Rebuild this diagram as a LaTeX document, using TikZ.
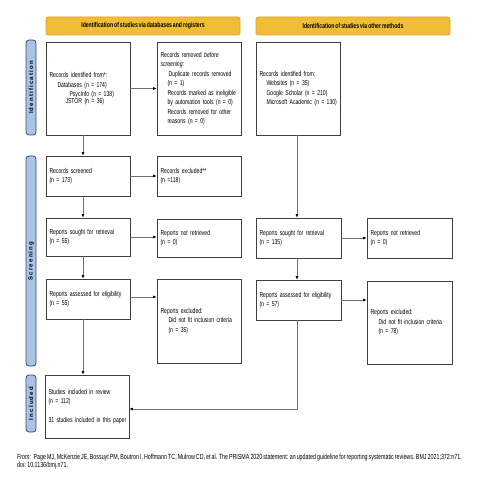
\documentclass[tikz,border=0pt]{standalone}
\usepackage{fontspec}
\setmainfont[FakeStretch=0.72, WordSpace=0.7]{Liberation Sans}
\newfontfamily\sidefont[LetterSpace=20]{Liberation Sans}
\usetikzlibrary{arrows.meta}
\hyphenpenalty=10000
\exhyphenpenalty=10000
\definecolor{bannerfill}{HTML}{F2BD36}
\definecolor{bannerdraw}{HTML}{D6A12A}
\definecolor{sidefill}{HTML}{A9C3E6}
\definecolor{sidedraw}{HTML}{3A4A66}
\definecolor{boxdraw}{HTML}{404040}
\definecolor{linec}{HTML}{707070}
\tikzset{
  box/.style={draw=boxdraw, line width=0.7pt, fill=white, inner xsep=3.5pt, inner ysep=2pt,
    align=left, font=\fontsize{7.1}{9.5}\selectfont},
  banner/.style={draw=bannerdraw, line width=0.6pt, fill=bannerfill, rounded corners=2pt,
    minimum width=194pt, minimum height=18pt, inner sep=0pt, font=\bfseries\fontsize{7.1}{7}\selectfont},
  sidebar/.style={draw=sidedraw, line width=0.8pt, fill=sidefill, rounded corners=3pt, rotate=90,
    minimum height=10pt, inner sep=0pt, font=\sidefont\bfseries\fontsize{6}{7}\selectfont},
  conn/.style={draw=linec, line width=0.6pt, -{Latex[length=3.5pt,width=3pt,color=black]}},
  footer/.style={anchor=north west, inner sep=0pt, align=left, font=\fontsize{7.4}{8}\selectfont}
}
\begin{document}
\begin{tikzpicture}[x=1pt,y=-1pt]
\useasboundingbox[fill=white] (0,0) rectangle (478,486);

% banners
\node[banner] (bandb) at (143,26) {Identification of studies via databases and registers};
\node[banner] (banot) at (353,26) {Identification of studies via other methods};

% side bars
\node[sidebar, minimum width=95pt] (sideid) at (31,87.5) {Identification};
\node[sidebar, minimum width=210pt] (sidescr) at (31,261) {Screening};
\node[sidebar, minimum width=57pt] (sideinc) at (31,403.5) {Included};

% left column
\node[box, text width=77pt, minimum height=93pt] (id1) at (88,88.5) {Records identified from*:\\
\hspace*{8pt}Databases (n = 174)\\
\hspace*{20pt}PsycInfo (n = 138)\\[-3pt]
\hspace*{16pt}JSTOR (n = 36)};
\node[box, text width=77pt, minimum height=93pt] (id2) at (199,88.5) {Records removed \textit{before}\\
\textit{screening}:\\
\hspace*{8pt}Duplicate records removed\\
\hspace*{7pt}(n = 1)\\
\hspace*{7pt}Records marked as ineligible\\
\hspace*{7pt}by automation tools (n = 0)\\
\hspace*{7pt}Records removed for other\\
\hspace*{7pt}reasons (n = 0)};
\node[box, text width=77pt, minimum height=40pt] (scr) at (88,176) {Records screened\\(n = 173)};
\node[box, text width=77pt, minimum height=40pt] (exc) at (199,176) {Records excluded**\\(n =118)};
\node[box, text width=77pt, minimum height=38pt] (soughtL) at (88,237) {Reports sought for retrieval\\(n = 55)};
\node[box, text width=77pt, minimum height=38pt] (notretL) at (199,238) {Reports not retrieved\\(n = 0)};
\node[box, text width=77pt, minimum height=40pt] (assessL) at (88,299) {Reports assessed for eligibility\\(n = 55)};
\node[box, text width=77pt, minimum height=84pt] (exclL) at (199,321) {Reports excluded:\\
\hspace*{8pt}Did not fit inclusion criteria\\
\hspace*{8pt}(n = 35)\\[8pt]};
\node[box, text width=77pt, minimum height=63pt] (incl) at (87,406.5) {Studies included in review\\(n = 112)\\[9.5pt]\mbox{31 studies included in this paper}};

% right column
\node[box, text width=77pt, minimum height=93pt] (id3) at (298,88.5) {Records identified from:\\
\hspace*{7pt}Websites (n = 35)\\
\hspace*{7pt}Google Scholar (n = 210)\\
\hspace*{7pt}\mbox{Microsoft Academic (n = 130)}\\[4pt]};
\node[box, text width=78pt, minimum height=40pt] (soughtR) at (298.5,238) {Reports sought for retrieval\\(n = 135)};
\node[box, text width=78pt, minimum height=40pt] (notretR) at (409.5,238) {Reports not retrieved\\(n = 0)};
\node[box, text width=78pt, minimum height=40pt] (assessR) at (298.5,300) {Reports assessed for eligibility\\(n = 57)};
\node[box, text width=78pt, minimum height=83pt] (exclR) at (409.5,322.5) {Reports excluded:\\
\hspace*{8pt}Did not fit inclusion criteria\\
\hspace*{8pt}(n = 78)\\[8pt]};

% connectors left
\draw[conn] (id1) -- (id2);
\draw[conn] ([xshift=-5pt]id1.south) -- ([xshift=-5pt]scr.north);
\draw[conn] (scr) -- (exc);
\draw[conn] ([xshift=-5pt]scr.south) -- ([xshift=-5pt]soughtL.north);
\draw[conn] (soughtL.east) -- (soughtL.east -| notretL.west);
\draw[conn] ([xshift=-5pt]soughtL.south) -- ([xshift=-5pt]assessL.north);
\draw[conn] ([yshift=2pt]assessL.east) -- ([yshift=2pt]assessL.east -| exclL.west);
\draw[conn] ([xshift=-5pt]assessL.south) -- ([xshift=-4pt]incl.north);
% connectors right
\draw[conn] ([xshift=-1pt]id3.south) -- ([xshift=-1.5pt]soughtR.north);
\draw[conn] (soughtR) -- (soughtR -| notretR.west);
\draw[conn] ([xshift=-1.5pt]soughtR.south) -- ([xshift=-1.5pt]assessR.north);
\draw[conn] (assessR.east) -- (assessR.east -| exclR.west);
\draw[conn] ([xshift=-1.5pt]assessR.south) |- ([yshift=-2.5pt]incl.east);

% footer
\node[footer] (foot) at (17,454) {\textit{From:} \ Page MJ, McKenzie JE, Bossuyt PM, Boutron I, Hoffmann TC, Mulrow CD, et al. The PRISMA 2020 statement: an updated guideline for reporting systematic reviews. BMJ 2021;372:n71.\\doi: 10.1136/bmj.n71.};
\end{tikzpicture}
\end{document}
